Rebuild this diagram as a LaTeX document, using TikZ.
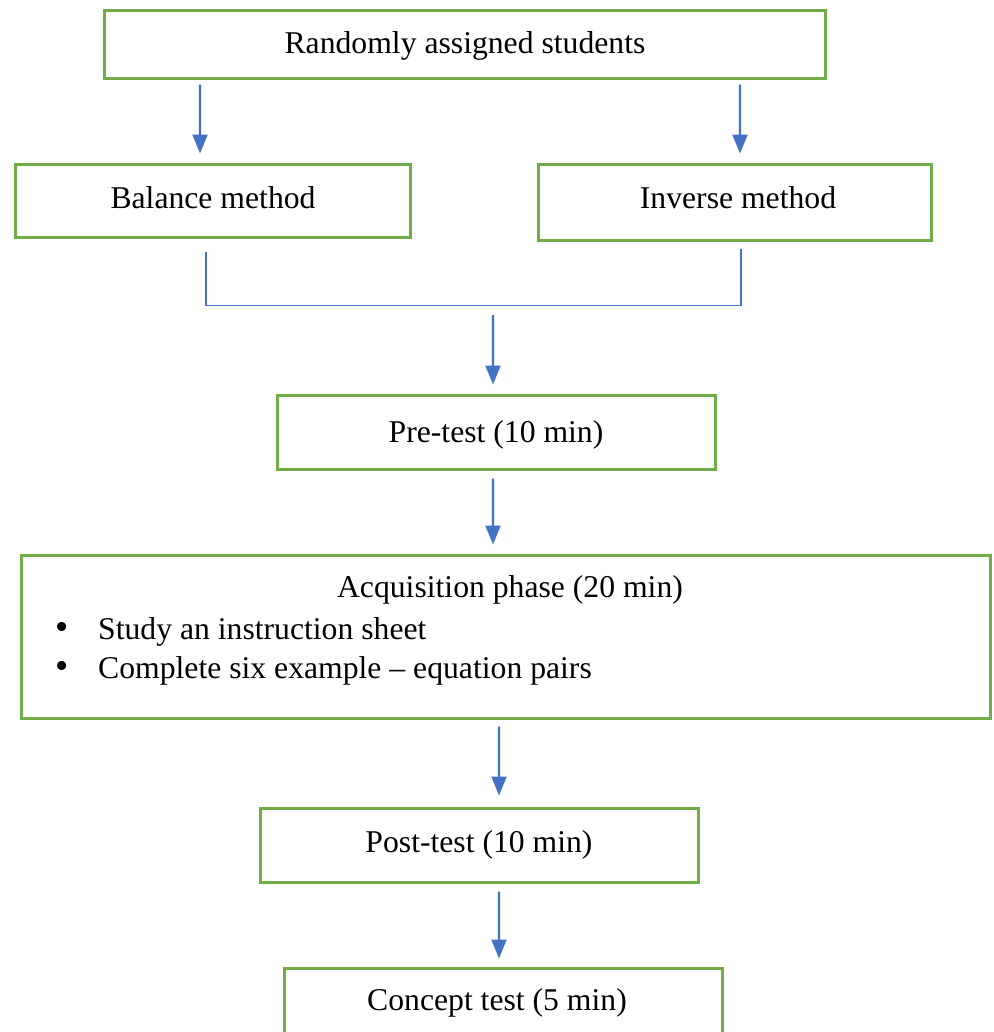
\documentclass[tikz,border=0pt]{standalone}
\usepackage{fontspec}
\setmainfont{Liberation Serif}
\usetikzlibrary{arrows.meta,calc}
\definecolor{boxgreen}{RGB}{112,173,71}
\definecolor{arrblue}{RGB}{68,114,196}
\tikzset{
  box/.style={draw=boxgreen, line width=3bp, rectangle, inner sep=0pt, fill=white},
  txt/.style={font=\fontsize{31.8}{39}\selectfont, inner sep=0pt},
  arr/.style={draw=arrblue, line width=2.2bp, -{Triangle[width=15bp,length=19bp]}},
  conn/.style={draw=arrblue, line width=1.3bp},
}
\begin{document}
\begin{tikzpicture}[x=1bp,y=-1bp]
\clip (0,0) rectangle (994,1032);
\fill[white] (0,0) rectangle (994,1032);
\node[box, minimum width=720bp, minimum height=68bp] (top) at (465,44) {};
\node[txt] (toptxt) at (465,46) {Randomly assigned students};
\node[box, minimum width=394bp, minimum height=73bp] (bal) at (213,200.5) {};
\node[txt] (baltxt) at (213,198) {Balance method};
\node[box, minimum width=393bp, minimum height=76bp] (inv) at (734.5,202) {};
\node[txt] (invtxt) at (738,198) {Inverse method};
\node[box, minimum width=438bp, minimum height=74bp] (pre) at (496,432) {};
\node[txt] (pretxt) at (496,435) {Pre-test (10 min)};
\node[box, minimum width=968bp, minimum height=163bp] (acq) at (506,636.5) {};
\node[txt] (acqtxt) at (510,590) {Acquisition phase (20 min)};
\node[txt, anchor=north west] (acqlist) at (55,612) {%
  \begin{tabular}{@{}p{43bp}@{}l@{}}
  {\fontsize{38}{39}\selectfont\textbullet} & Study an instruction sheet\\
  {\fontsize{38}{39}\selectfont\textbullet} & Complete six example – equation pairs
  \end{tabular}};
\node[box, minimum width=438bp, minimum height=74bp] (post) at (479,845) {};
\node[txt] (posttxt) at (479,845) {Post-test (10 min)};
\node[box, minimum width=438bp, minimum height=74bp] (con) at (503,1005) {};
\node[txt] (contxt) at (497,1003) {Concept test (5 min)};

\draw[arr] ([xshift=-265bp,yshift=-5bp]top.south) -- ([xshift=-13bp,yshift=9bp]bal.north);
\draw[arr] ([xshift=275bp,yshift=-5bp]top.south) -- ([xshift=5.5bp,yshift=9bp]inv.north);
\draw[conn] ([xshift=-7bp,yshift=-13bp]bal.south) |- ([xshift=6.5bp,yshift=-64bp]inv.south) -- ([xshift=6.5bp,yshift=-7bp]inv.south);
\coordinate (join) at (493,315);
\draw[arr] (join) -- ([xshift=-3bp,yshift=9bp]pre.north);
\draw[arr] ([xshift=-3bp,yshift=-8bp]pre.south) -- ([xshift=-13bp,yshift=9bp]acq.north);
\draw[arr] ([xshift=-7bp,yshift=-7bp]acq.south) -- ([xshift=20bp,yshift=11bp]post.north);
\draw[arr] ([xshift=20bp,yshift=-8bp]post.south) -- ([xshift=-4bp,yshift=8bp]con.north);
\end{tikzpicture}
\end{document}
